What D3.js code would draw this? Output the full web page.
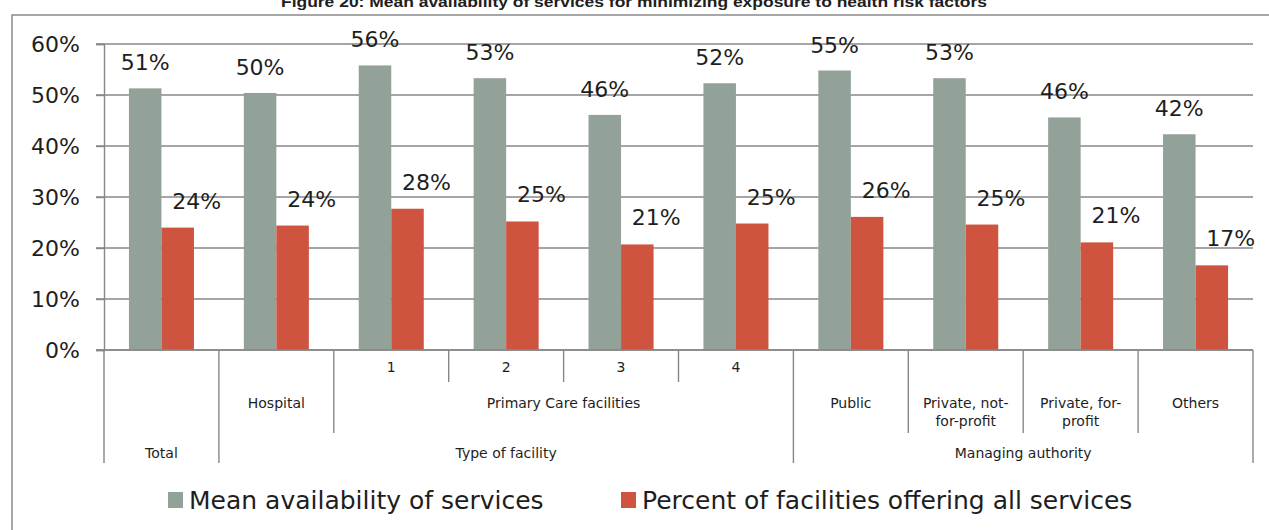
<!DOCTYPE html>
<html>
<head>
<meta charset="utf-8">
<script src="https://cdn.jsdelivr.net/npm/d3@7"></script>
<style>
  body { margin: 0; background: #fff; }
  svg text { font-family: "DejaVu Sans", sans-serif; fill: #1e1e1e; }
</style>
</head>
<body>
<svg id="chart" width="1269" height="530"></svg>
<script>
// values
var categories = ["Total", "Hospital", "1", "2", "3", "4", "Public", "Private, not-for-profit", "Private, for-profit", "Others"];
var meanAvail = [0.513, 0.504, 0.558, 0.533, 0.461, 0.523, 0.548, 0.533, 0.456, 0.423];
var pctAll = [0.240, 0.244, 0.277, 0.252, 0.207, 0.248, 0.261, 0.246, 0.211, 0.166];
var seriesNames = ["Mean availability of services", "Percent of facilities offering all services"];
var seriesColors = ["#93a299", "#cf543f"];
var yTicks = [0, 0.1, 0.2, 0.3, 0.4, 0.5, 0.6];

// category axis levels
var subLabels = ["", "", "1", "2", "3", "4", "", "", "", ""];
var midGroups = [["Hospital", 1, 1], ["Primary Care facilities", 2, 5], ["Public", 6, 6],
                 ["Private, not-|for-profit", 7, 7], ["Private, for-|profit", 8, 8], ["Others", 9, 9]];
var topGroups = [["Total", 0, 0], ["Type of facility", 1, 5], ["Managing authority", 6, 9]];

var title = "Figure 20: Mean availability of services for minimizing exposure to health risk factors";

var svg = d3.select("#chart");
var plotL = 104, plotR = 1253, plotT = 44, plotB = 350;
var rows = [350, 382, 433, 463];
var lineColor = "#878787";

// frame (clipped by the page)
svg.append("path")
    .attr("d", "M12,530 V15 H1269")
    .attr("fill", "none")
    .attr("stroke", "#8a8a8a")
    .attr("stroke-width", 1.5);

svg.append("text")
    .attr("x", 634).attr("y", 7)
    .attr("text-anchor", "middle")
    .attr("textLength", 706)
    .attr("lengthAdjust", "spacingAndGlyphs")
    .style("font-family", "'Liberation Sans', sans-serif")
    .style("font-weight", "bold")
    .style("font-size", "14px")
    .text(title);

var x0 = d3.scaleBand().domain(d3.range(categories.length)).range([plotL, plotR]).padding(0);
var bw = x0.bandwidth();
var x1 = d3.scaleBand().domain([0, 1]).range([bw * 0.217, bw * 0.783]).padding(0);
var y = d3.scaleLinear().domain([0, 0.6]).range([plotB, plotT]);

// grid
svg.append("g").selectAll("line").data(yTicks).join("line")
    .attr("x1", plotL - 8).attr("x2", plotR)
    .attr("y1", d => y(d)).attr("y2", d => y(d))
    .attr("stroke", lineColor).attr("stroke-width", 1.4);

var yAxis = svg.append("g")
    .attr("transform", "translate(" + plotL + ",0)")
    .call(d3.axisLeft(y).tickValues(yTicks).tickFormat(d3.format(".0%")).tickSize(8).tickPadding(16));
yAxis.select(".domain").attr("stroke", lineColor).attr("stroke-width", 1.4);
yAxis.selectAll(".tick line").attr("stroke", lineColor).attr("stroke-width", 1.4);
yAxis.selectAll(".tick text").style("font-size", "22px").style("font-family", "'DejaVu Sans', sans-serif").attr("fill", "#1e1e1e");

// bars
var series = [meanAvail, pctAll];
var groups = svg.append("g").selectAll("g").data(series).join("g")
    .attr("fill", (d, i) => seriesColors[i]);
groups.each(function(vals, si) {
    d3.select(this).selectAll("rect").data(vals).join("rect")
        .attr("x", (d, i) => x0(i) + x1(si))
        .attr("width", x1.bandwidth())
        .attr("y", d => y(d))
        .attr("height", d => y(0) - y(d));
});

// data labels
var fmt = d3.format(".0%");
series.forEach(function(vals, si) {
    svg.append("g").selectAll("text").data(vals).join("text")
        .attr("x", (d, i) => x0(i) + x1(si) + x1.bandwidth() / 2 + (si == 1 ? 19 : 0))
        .attr("y", d => y(d) - (si == 1 ? 19 : 18))
        .attr("text-anchor", "middle")
        .style("font-size", "22px")
        .text(d => fmt(d));
});

// category axis
svg.append("line")
    .attr("x1", plotL - 8).attr("x2", plotR)
    .attr("y1", plotB).attr("y2", plotB)
    .attr("stroke", lineColor).attr("stroke-width", 1.4);

var topStarts = topGroups.map(g => g[1]);
var midStarts = midGroups.map(g => g[1]);
var bounds = d3.range(categories.length + 1).map(function(i) {
    var depth = 1;
    if (i == 0 || i == categories.length || topStarts.indexOf(i) >= 0) depth = 3;
    else if (midStarts.indexOf(i) >= 0) depth = 2;
    return {i: i, depth: depth};
});
svg.append("g").selectAll("line").data(bounds).join("line")
    .attr("x1", d => d.i < categories.length ? x0(d.i) : plotR)
    .attr("x2", d => d.i < categories.length ? x0(d.i) : plotR)
    .attr("y1", plotB).attr("y2", d => rows[d.depth])
    .attr("stroke", lineColor).attr("stroke-width", 1.4);

svg.append("g").selectAll("text").data(subLabels).join("text")
    .attr("x", (d, i) => x0(i) + bw / 2)
    .attr("y", 372)
    .attr("text-anchor", "middle")
    .style("font-size", "14px")
    .text(d => d);

var mid = svg.append("g").selectAll("text").data(midGroups).join("text")
    .attr("x", d => (x0(d[1]) + x0(d[2]) + bw) / 2)
    .attr("y", 408)
    .attr("text-anchor", "middle")
    .style("font-size", "14px");
mid.each(function(d) {
    var parts = d[0].split("|");
    var t = d3.select(this);
    parts.forEach(function(p, k) {
        t.append("tspan").attr("x", (x0(d[1]) + x0(d[2]) + bw) / 2).attr("dy", k == 0 ? 0 : 18).text(p);
    });
});

svg.append("g").selectAll("text").data(topGroups).join("text")
    .attr("x", d => (x0(d[1]) + x0(d[2]) + bw) / 2)
    .attr("y", 458)
    .attr("text-anchor", "middle")
    .style("font-size", "14px")
    .text(d => d[0]);

// legend
var legendX = [168, 621];
var legend = svg.append("g").selectAll("g").data(seriesNames).join("g")
    .attr("transform", (d, i) => "translate(" + legendX[i] + ",492)");
legend.append("rect")
    .attr("width", 15).attr("height", 16)
    .attr("fill", (d, i) => seriesColors[i]);
legend.append("text")
    .attr("x", 21).attr("y", 17)
    .style("font-size", "25px")
    .text(d => d);
</script>
</body>
</html>
